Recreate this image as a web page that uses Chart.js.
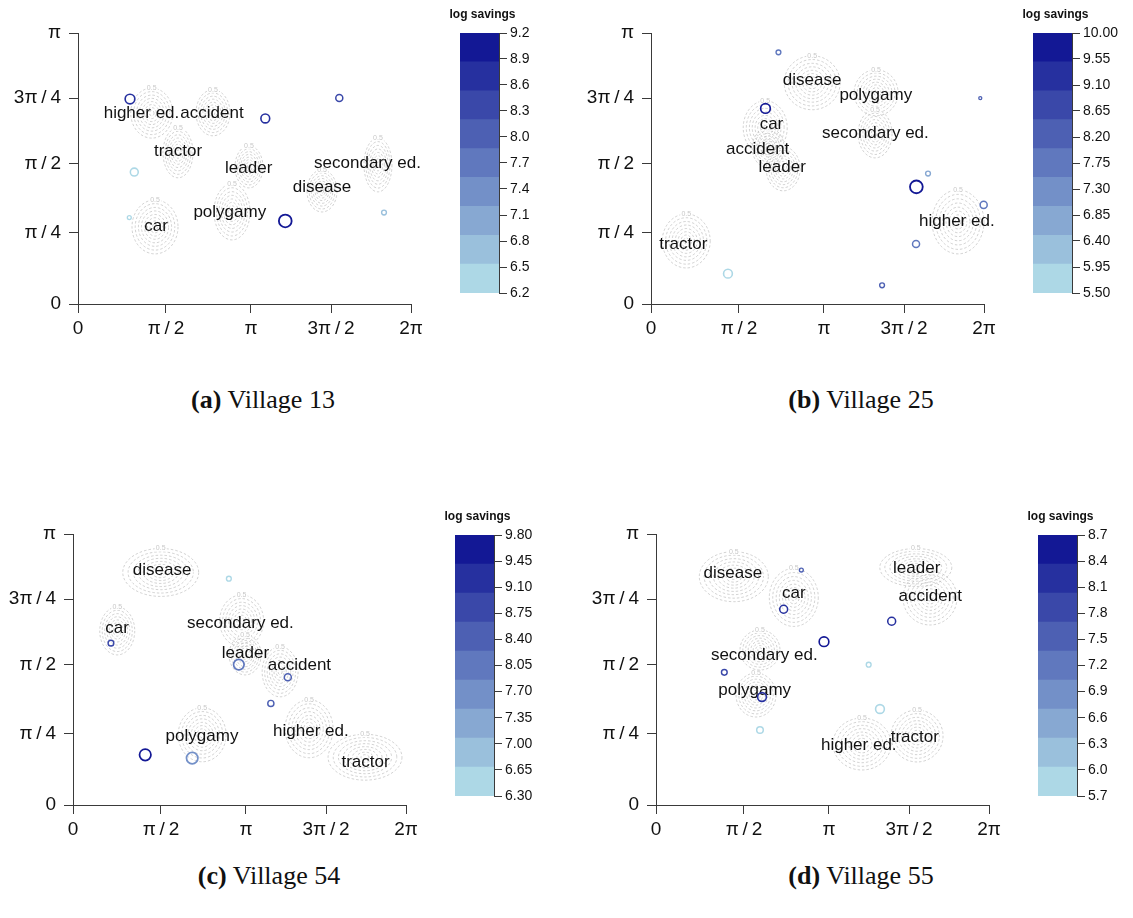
<!DOCTYPE html>
<html>
<head>
<meta charset="utf-8">
<script src="https://cdn.jsdelivr.net/npm/chart.js@4.4.0/dist/chart.umd.min.js"></script>
<style>
  body { margin: 0; background: #fff; width: 1133px; height: 918px; position: relative; overflow: hidden; }
  canvas { position: absolute; }
  .cap { position: absolute; transform: translate(-50%, -50%); white-space: nowrap;
         font-family: 'Liberation Serif', 'DejaVu Serif', serif; font-size: 26px; color: #111; }
</style>
</head>
<body>
<canvas id="plotA"></canvas><canvas id="barA"></canvas>
<canvas id="plotB"></canvas><canvas id="barB"></canvas>
<canvas id="plotC"></canvas><canvas id="barC"></canvas>
<canvas id="plotD"></canvas><canvas id="barD"></canvas>
<div class="cap" style="left:263px;top:400px"><b>(a)</b> Village 13</div>
<div class="cap" style="left:861px;top:400px"><b>(b)</b> Village 25</div>
<div class="cap" style="left:269px;top:876px"><b>(c)</b> Village 54</div>
<div class="cap" style="left:861px;top:876px"><b>(d)</b> Village 55</div>
<script>
// ── axis ticks (shared by the four villages) ───────────────────────────────
const X_TICKS       = [0, 1.659, 3.264, 4.775, 6.2832];
const X_TICK_LABELS = ['0', 'π\u2009/\u20092', 'π', '3π\u2009/\u20092', '2π'];
const Y_TICKS       = [0, 0.826, 1.630, 2.386, 3.1416];
const Y_TICK_LABELS = ['0', 'π\u2009/\u20094', 'π\u2009/\u20092', '3π\u2009/\u20094', 'π'];

// ── households: [x, y, log savings, cex] ───────────────────────────────────
const pointsA = [
  [0.981, 2.376, 8.7, 1.1], [1.062, 1.529, 6.3, 0.9], [0.968, 1.002, 6.3, 0.45],
  [3.534, 2.151, 8.8, 1.0], [4.930, 2.387, 8.4, 0.8], [3.911, 0.963, 9.0, 1.45],
  [5.774, 1.060, 6.7, 0.55],
];
const pointsB = [
  [2.405, 2.917, 7.7, 0.55], [2.160, 2.267, 9.8, 1.1], [6.213, 2.387, 8.2, 0.35],
  [5.227, 1.512, 6.8, 0.55], [5.007, 1.358, 9.8, 1.45], [6.277, 1.149, 7.9, 0.8],
  [5.001, 0.696, 7.6, 0.8], [1.452, 0.352, 5.7, 1.0], [4.360, 0.217, 8.1, 0.55],
];
const pointsC = [
  [2.941, 2.624, 6.4, 0.55], [0.716, 1.876, 8.8, 0.65], [3.129, 1.628, 8.2, 1.2],
  [4.053, 1.482, 8.3, 0.8], [3.733, 1.177, 8.3, 0.7], [1.363, 0.582, 9.6, 1.3],
  [2.249, 0.544, 7.7, 1.3],
];
const pointsD = [
  [2.742, 2.724, 7.5, 0.45], [2.409, 2.269, 8.1, 0.9], [4.447, 2.130, 8.2, 0.9],
  [3.170, 1.893, 8.5, 1.1], [1.289, 1.538, 7.9, 0.65], [4.013, 1.627, 5.8, 0.55],
  [2.000, 1.252, 8.1, 1.0], [4.226, 1.113, 5.8, 1.0], [1.962, 0.869, 5.9, 0.75],
];

// ── variable labels: [name, x, y] ──────────────────────────────────────────
const labelsA = [
  ['higher ed.', 1.198, 2.213], ['accident', 2.528, 2.213], ['tractor', 1.887, 1.768],
  ['leader', 3.221, 1.575], ['secondary ed.', 5.462, 1.633], ['disease', 4.604, 1.354],
  ['polygamy', 2.864, 1.060], ['car', 1.472, 0.905],
];
const labelsB = [
  ['disease', 3.041, 2.596], ['polygamy', 4.241, 2.418], ['car', 2.273, 2.081],
  ['secondary ed.', 4.234, 1.977], ['accident', 2.013, 1.795], ['leader', 2.475, 1.587],
  ['higher ed.', 5.770, 0.955], ['tractor', 0.609, 0.688],
];
const labelsC = [
  ['disease', 1.680, 2.721], ['car', 0.831, 2.045], ['secondary ed.', 3.158, 2.111],
  ['leader', 3.254, 1.755], ['accident', 4.272, 1.617], ['polygamy', 2.434, 0.791],
  ['higher ed.', 4.488, 0.857], ['tractor', 5.520, 0.493],
];
const labelsD = [
  ['disease', 1.449, 2.686], ['car', 2.600, 2.450], ['leader', 4.919, 2.739],
  ['accident', 5.174, 2.415], ['secondary ed.', 2.043, 1.731], ['polygamy', 1.862, 1.333],
  ['higher ed.', 3.826, 0.687], ['tractor', 4.883, 0.780],
];

// ── density contours: [x, y, x spread, y spread] ───────────────────────────
const blobsA = [
  [1.391, 2.213, 0.396, 0.290], [2.547, 2.217, 0.321, 0.267], [1.887, 1.753, 0.283, 0.290],
  [3.226, 1.590, 0.264, 0.244], [5.660, 1.613, 0.264, 0.313], [4.604, 1.311, 0.283, 0.244],
  [2.906, 1.068, 0.340, 0.325], [1.453, 0.894, 0.434, 0.313],
];
const blobsB = [
  [3.041, 2.565, 0.528, 0.313], [4.247, 2.449, 0.415, 0.267], [2.155, 2.043, 0.415, 0.313],
  [4.228, 1.973, 0.320, 0.279], [2.211, 1.811, 0.302, 0.232], [2.494, 1.567, 0.320, 0.255],
  [5.793, 0.952, 0.490, 0.371], [0.665, 0.731, 0.452, 0.313],
];
const blobsC = [
  [1.655, 2.696, 0.716, 0.278], [0.835, 2.018, 0.330, 0.278], [3.182, 2.134, 0.415, 0.301],
  [3.248, 1.740, 0.302, 0.232], [3.908, 1.544, 0.339, 0.290], [2.437, 0.814, 0.452, 0.313],
  [4.455, 0.884, 0.452, 0.336], [5.510, 0.554, 0.697, 0.266],
];
const blobsD = [
  [1.468, 2.647, 0.651, 0.290], [2.600, 2.406, 0.462, 0.336], [4.902, 2.753, 0.679, 0.220],
  [5.170, 2.400, 0.509, 0.313], [1.962, 1.797, 0.377, 0.232], [1.887, 1.275, 0.377, 0.255],
  [3.887, 0.707, 0.547, 0.301], [4.925, 0.800, 0.491, 0.301],
];

// ── colour key tick labels ────────────────────────────────────────────────
const keyTicksA = [6.2, 6.5, 6.8, 7.1, 7.4, 7.7, 8.0, 8.3, 8.6, 8.9, 9.2];
const keyTicksB = [5.50, 5.95, 6.40, 6.85, 7.30, 7.75, 8.20, 8.65, 9.10, 9.55, 10.00];
const keyTicksC = [6.30, 6.65, 7.00, 7.35, 7.70, 8.05, 8.40, 8.75, 9.10, 9.45, 9.80];
const keyTicksD = [5.7, 6.0, 6.3, 6.6, 6.9, 7.2, 7.5, 7.8, 8.1, 8.4, 8.7];

// ── styling ───────────────────────────────────────────────────────────────
const SANS   = "'Liberation Sans', Arial, sans-serif";
const AXIS   = '#3a3a3a';
const N_BAND = 9;
const LIGHT  = [173, 216, 230];   // lightblue
const DARK   = [0, 0, 139];       // darkblue
const RINGS  = [1, 0.86, 0.72, 0.59, 0.46, 0.34, 0.22, 0.11];

function bandColor(i) {
  const t = i / N_BAND;
  const c = LIGHT.map((v, k) => Math.round(v + (DARK[k] - v) * t));
  return `rgb(${c[0]},${c[1]},${c[2]})`;
}

function colorFor(v, ticks) {
  const lo = ticks[0], hi = ticks[ticks.length - 1];
  const i = Math.min(N_BAND - 1, Math.max(0, Math.floor((v - lo) / (hi - lo) * N_BAND)));
  return bandColor(i);
}

// contours + variable names, drawn under the households
const overlay = {
  id: 'overlay',
  beforeDatasetsDraw(chart, args, opts) {
    const { ctx, scales: { x, y } } = chart;
    ctx.save();
    opts.blobs.forEach(b => {
      const cx = x.getPixelForValue(b[0]), cy = y.getPixelForValue(b[1]);
      const rx = x.getPixelForValue(b[0] + b[2]) - cx;
      const ry = cy - y.getPixelForValue(b[1] + b[3]);
      ctx.strokeStyle = 'rgba(175,175,175,0.7)';
      ctx.lineWidth = 0.8;
      ctx.setLineDash([2.5, 2]);
      RINGS.forEach((k, j) => {
        ctx.lineDashOffset = j * 1.3;
        ctx.beginPath();
        ctx.ellipse(cx, cy, rx * k, ry * k, 0, 0, Math.PI * 2);
        ctx.stroke();
      });
      ctx.setLineDash([]);
      ctx.font = `7px ${SANS}`;
      ctx.textAlign = 'center'; ctx.textBaseline = 'middle';
      ctx.fillStyle = '#fff';
      ctx.fillRect(cx - 6, cy - ry - 3, 12, 6);
      ctx.fillStyle = '#c8c8c8';
      ctx.fillText('0.5', cx, cy - ry);
    });
    ctx.font = `17px ${SANS}`;
    ctx.fillStyle = '#111';
    ctx.textAlign = 'center'; ctx.textBaseline = 'middle';
    opts.labels.forEach(l => ctx.fillText(l[0], x.getPixelForValue(l[1]), y.getPixelForValue(l[2])));
    ctx.restore();
  }
};

// key title
const keyTitle = {
  id: 'keyTitle',
  afterDraw(chart) {
    const { ctx, chartArea } = chart;
    ctx.save();
    ctx.font = `bold 12px ${SANS}`;
    ctx.fillStyle = '#111';
    ctx.textAlign = 'center'; ctx.textBaseline = 'middle';
    ctx.fillText('log savings', (chartArea.left + chartArea.right) / 2 + 3, chartArea.top - 18);
    ctx.restore();
  }
};

const PAD_T = 40, PAD_R = 30, Y_W = 80, X_H = 50;

function axis(ticks, labels, isX) {
  return {
    type: 'linear', min: 0, max: ticks[ticks.length - 1],
    afterBuildTicks: s => { s.ticks = ticks.map(v => ({ value: v })); },
    afterFit: s => { if (isX) s.height = X_H; else s.width = Y_W; },
    grid: { drawOnChartArea: false, drawTicks: true, tickLength: 9, color: AXIS },
    border: { display: true, color: AXIS, width: 1 },
    ticks: {
      autoSkip: false, maxRotation: 0, padding: isX ? 4 : 8, color: '#111',
      font: { family: SANS, size: 19 },
      callback: (v, i) => labels[i],
    },
  };
}

function renderPlot(id, rect, points, labels, blobs, keyTicks) {
  const el = document.getElementById(id);
  const w = rect[2] - rect[0] + Y_W + PAD_R, h = rect[3] - rect[1] + PAD_T + X_H;
  el.width = w; el.height = h;
  el.style.left = (rect[0] - Y_W) + 'px';
  el.style.top = (rect[1] - PAD_T) + 'px';
  new Chart(el, {
    type: 'scatter',
    data: {
      datasets: [{
        data: points.map(p => ({ x: p[0], y: p[1] })),
        pointStyle: 'circle',
        pointRadius: points.map(p => p[3] * 4.4),
        pointBorderWidth: points.map(p => 1.1 + p[3] * 0.5),
        pointBorderColor: points.map(p => colorFor(p[2], keyTicks)),
        pointBackgroundColor: 'rgba(0,0,0,0)',
        clip: false,
      }]
    },
    options: {
      responsive: false, animation: false, devicePixelRatio: 1,
      layout: { padding: { top: PAD_T, right: PAD_R, left: 0, bottom: 0 } },
      plugins: { legend: { display: false }, tooltip: { enabled: false }, overlay: { labels, blobs } },
      scales: { x: axis(X_TICKS, X_TICK_LABELS, true), y: axis(Y_TICKS, Y_TICK_LABELS, false) },
    },
    plugins: [overlay],
  });
}

function renderKey(id, rect, ticks, digits) {
  const el = document.getElementById(id);
  const padL = 30, padT = 30, padB = 12, axisW = 62;
  el.width = rect[2] - rect[0] + padL + axisW;
  el.height = rect[3] - rect[1] + padT + padB;
  el.style.left = (rect[0] - padL) + 'px';
  el.style.top = (rect[1] - padT) + 'px';
  const lo = ticks[0], hi = ticks[ticks.length - 1], step = (hi - lo) / N_BAND;
  const datasets = [];
  for (let i = 0; i < N_BAND; i++) {
    datasets.push({
      data: [[lo + i * step, lo + (i + 1) * step]],
      backgroundColor: bandColor(i), borderWidth: 0,
      barPercentage: 1, categoryPercentage: 1, grouped: false,
    });
  }
  new Chart(el, {
    type: 'bar',
    data: { labels: [''], datasets },
    options: {
      responsive: false, animation: false, devicePixelRatio: 1,
      layout: { padding: { top: padT, bottom: padB, left: padL, right: 0 } },
      plugins: { legend: { display: false }, tooltip: { enabled: false } },
      scales: {
        x: { display: false },
        y: {
          position: 'right', min: lo, max: hi,
          afterBuildTicks: s => { s.ticks = ticks.map(v => ({ value: v })); },
          afterFit: s => { s.width = axisW; },
          grid: { drawOnChartArea: false, tickLength: 8, color: AXIS },
          border: { display: true, color: AXIS },
          ticks: { padding: 3, color: '#111', font: { family: SANS, size: 14 },
                   callback: v => v.toFixed(digits) },
        }
      }
    },
    plugins: [keyTitle],
  });
}

renderPlot('plotA', [78, 33, 411, 304], pointsA, labelsA, blobsA, keyTicksA);
renderPlot('plotB', [651, 33, 984, 304], pointsB, labelsB, blobsB, keyTicksB);
renderPlot('plotC', [73, 534, 406, 805], pointsC, labelsC, blobsC, keyTicksC);
renderPlot('plotD', [656, 534, 989, 805], pointsD, labelsD, blobsD, keyTicksD);

renderKey('barA', [460, 33, 499, 293], keyTicksA, 1);
renderKey('barB', [1033, 33, 1072, 293], keyTicksB, 2);
renderKey('barC', [455, 535, 494, 796], keyTicksC, 2);
renderKey('barD', [1038, 535, 1077, 796], keyTicksD, 1);
</script>
</body>
</html>
